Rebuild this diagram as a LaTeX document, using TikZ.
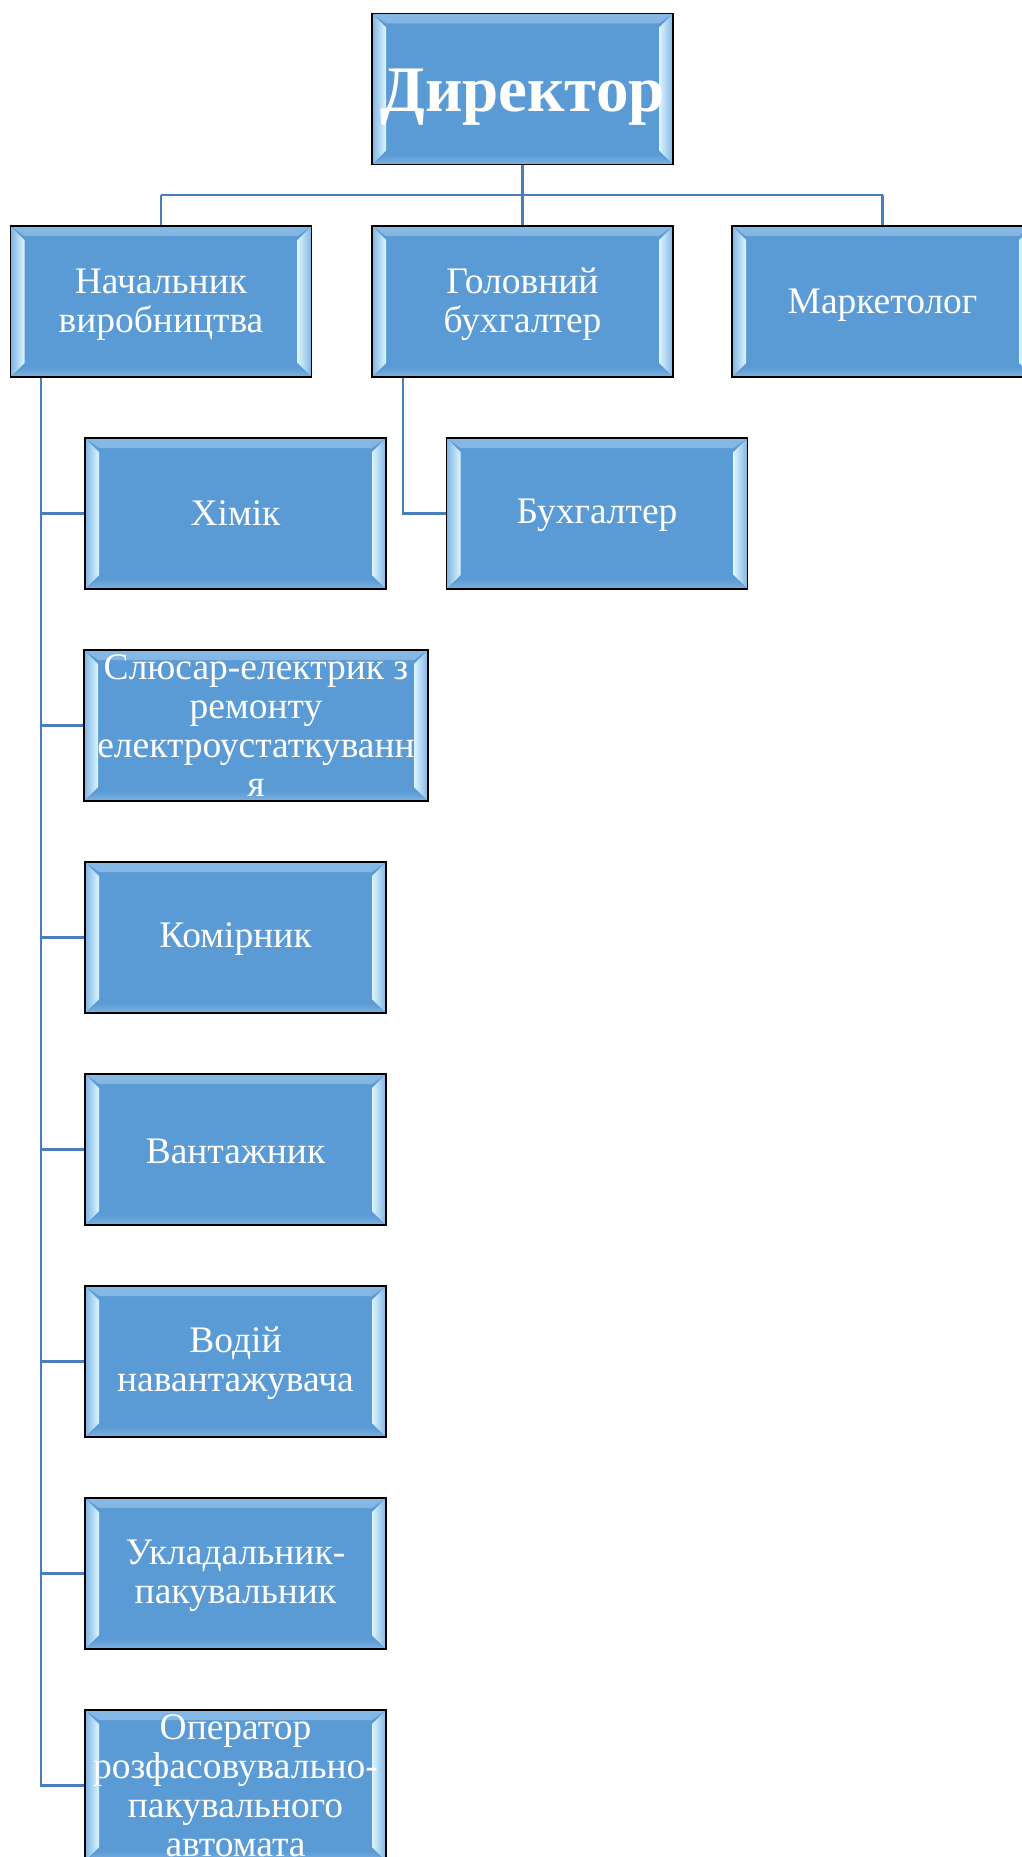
\documentclass[tikz,border=0pt]{standalone}
\usepackage{fontspec}
\setmainfont{Liberation Serif}
\definecolor{boxblue}{HTML}{5B9BD5}
\definecolor{conncol}{HTML}{4A7EBB}
\definecolor{bevlight}{HTML}{DDF6FF}
\definecolor{bevmid}{HTML}{80B4E2}
\definecolor{bevtop}{HTML}{86B8E4}
\definecolor{bevbot}{HTML}{7FB2E0}
\tikzset{
  orgbox/.style={draw=black, line width=1.8pt, fill=boxblue, text=white,
    minimum width=301pt, minimum height=151pt, inner sep=0pt, align=center,
    font=\fontsize{37.5}{39}\selectfont,
    path picture={
      \shade[top color=bevtop, bottom color=boxblue]
        (path picture bounding box.north west) -- (path picture bounding box.north east)
        -- ([xshift=-14pt,yshift=-10pt]path picture bounding box.north east)
        -- ([xshift=14pt,yshift=-10pt]path picture bounding box.north west) -- cycle;
      \shade[top color=boxblue, bottom color=bevbot]
        (path picture bounding box.south west) -- (path picture bounding box.south east)
        -- ([xshift=-14pt,yshift=10pt]path picture bounding box.south east)
        -- ([xshift=14pt,yshift=10pt]path picture bounding box.south west) -- cycle;
      \shade[left color=bevmid, right color=bevlight]
        (path picture bounding box.north west)
        -- ([xshift=14pt,yshift=-14pt]path picture bounding box.north west)
        -- ([xshift=14pt,yshift=14pt]path picture bounding box.south west)
        -- (path picture bounding box.south west) -- cycle;
      \shade[left color=bevlight, right color=bevmid]
        (path picture bounding box.north east)
        -- ([xshift=-14pt,yshift=-14pt]path picture bounding box.north east)
        -- ([xshift=-14pt,yshift=14pt]path picture bounding box.south east)
        -- (path picture bounding box.south east) -- cycle;
    }},
  conn/.style={draw=conncol, line width=2.6pt}
}
\begin{document}
\begin{tikzpicture}[x=1pt, y=-1pt]
\clip (0,0) rectangle (1022,1857);
\fill[white] (0,0) rectangle (1022,1857);

\coordinate (hy) at (0,195);
\coordinate (tk) at (41,0);
\coordinate (bx) at (403,0);

\node[orgbox, font=\fontsize{65}{70}\selectfont\bfseries] (dir) at (522.5,89) {\raisebox{-8pt}[\height][\depth]{Директор}};
\node[orgbox] (nach) at (161,301.5) {\raisebox{-3pt}[\height][\depth]{Начальник}\\\raisebox{-3pt}[\height][\depth]{виробництва}};
\node[orgbox] (hol) at (522.5,301.5) {\raisebox{-3pt}[\height][\depth]{Головний}\\\raisebox{-3pt}[\height][\depth]{бухгалтер}};
\node[orgbox] (mark) at (882.5,301.5) {\raisebox{-4pt}[\height][\depth]{Маркетолог}};

\node[orgbox] (buh) at (597,513.5) {\raisebox{-2pt}[\height][\depth]{Бухгалтер}};

\node[orgbox] (chem) at (235.5,513.5) {Хімік};
\node[orgbox, minimum width=344pt] (slus) at (256,725.5) {Слюсар-електрик з\\ремонту\\електроустаткуванн\\я};
\node[orgbox] (komir) at (235.5,937.5) {\raisebox{-2pt}[\height][\depth]{Комірник}};
\node[orgbox] (vant) at (235.5,1149.5) {\raisebox{-2pt}[\height][\depth]{Вантажник}};
\node[orgbox] (vod) at (235.5,1361.5) {\raisebox{-2pt}[\height][\depth]{Водій}\\\raisebox{-2pt}[\height][\depth]{навантажувача}};
\node[orgbox] (ukl) at (235.5,1573.5) {\raisebox{-2pt}[\height][\depth]{Укладальник-}\\\raisebox{-2pt}[\height][\depth]{пакувальник}};
\node[orgbox] (oper) at (235.5,1785.5) {Оператор\\розфасовувально-\\пакувального\\автомата};

\draw[conn, line width=3.4pt] (dir.south) -- (hol.north);
\draw[conn] (nach.north |- hy) -- (mark.north |- hy);
\draw[conn] (nach.north |- hy) -- (nach.north);
\draw[conn] (mark.north |- hy) -- (mark.north);

\draw[conn] (nach.south -| tk) |- (oper.west);
\draw[conn] (tk |- chem.west) -- (chem.west);
\draw[conn] (tk |- slus.west) -- (slus.west);
\draw[conn] (tk |- komir.west) -- (komir.west);
\draw[conn] (tk |- vant.west) -- (vant.west);
\draw[conn] (tk |- vod.west) -- (vod.west);
\draw[conn] (tk |- ukl.west) -- (ukl.west);

\draw[conn] (hol.south -| bx) |- (buh.west);
\end{tikzpicture}
\end{document}
